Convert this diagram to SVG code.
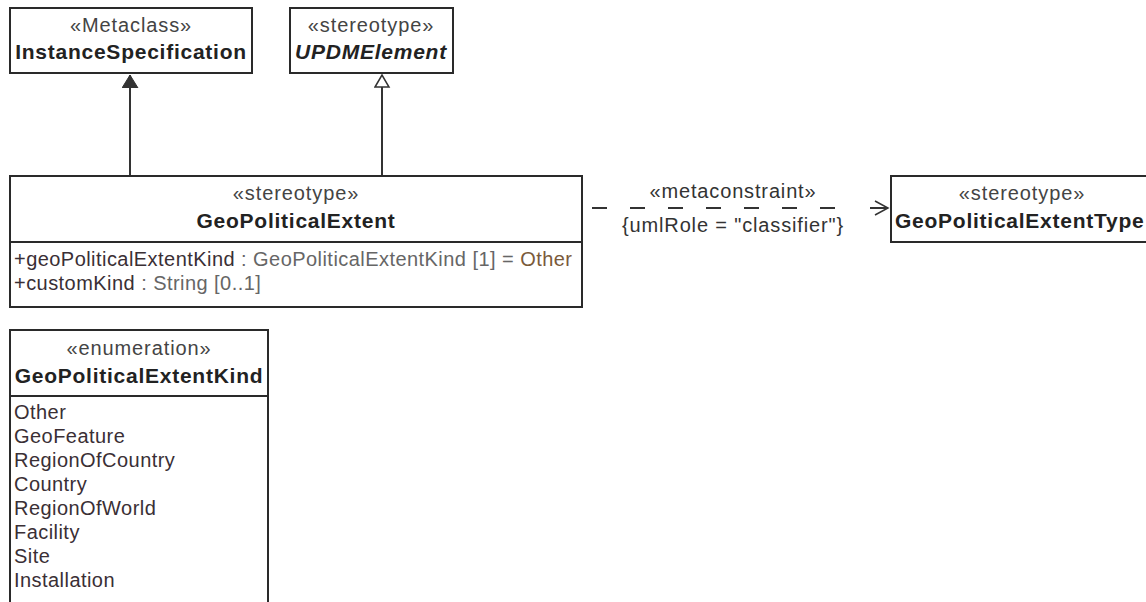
<svg xmlns="http://www.w3.org/2000/svg" width="1146" height="602" viewBox="0 0 1146 602">
<defs>
<style>
.box{fill:#fff;stroke:#2a2a2a;stroke-width:2}
.div{stroke:#2a2a2a;stroke-width:2}
.st{font-family:"Liberation Sans",Arial,sans-serif;font-size:20px;letter-spacing:0.9px;fill:#444;text-anchor:middle}
.nm{font-family:"Liberation Sans",Arial,sans-serif;font-size:21px;letter-spacing:0.75px;font-weight:bold;fill:#222;text-anchor:middle}
.at{font-family:"Liberation Sans",Arial,sans-serif;font-size:20px;letter-spacing:0.45px;fill:#3a2f35}
.ty{fill:#666}
.dv{fill:#7a5a3a}
.ln{stroke:#333;stroke-width:2;fill:none}
.lb{font-family:"Liberation Sans",Arial,sans-serif;font-size:20px;letter-spacing:0.85px;fill:#333;text-anchor:middle}
</style>
<marker id="genFilled" markerWidth="16" markerHeight="18" refX="13" refY="8" orient="auto" markerUnits="userSpaceOnUse">
<path d="M0,0 L13,8 L0,16 Z" fill="#333" stroke="#333" stroke-width="1"/>
</marker>
<marker id="genHollow" markerWidth="16" markerHeight="18" refX="13" refY="8" orient="auto" markerUnits="userSpaceOnUse">
<path d="M1,1 L13,8 L1,15 Z" fill="#fff" stroke="#333" stroke-width="1.5"/>
</marker>
<marker id="open" markerWidth="16" markerHeight="18" refX="14" refY="8" orient="auto" markerUnits="userSpaceOnUse">
<path d="M1,1 L14,8 L1,15" fill="none" stroke="#333" stroke-width="1.5"/>
</marker>
</defs>
<rect width="1146" height="602" fill="#fff"/>

<g id="connectors">
<line class="ln" x1="130" y1="176" x2="130" y2="75" marker-end="url(#genFilled)"/>
<line class="ln" x1="382" y1="176" x2="382" y2="75" marker-end="url(#genHollow)"/>
<line class="ln" x1="592" y1="208" x2="888" y2="208" stroke-dasharray="15 23 15 23 15 23 15 23 15 23 15 23 15 35 18 10" marker-end="url(#open)"/>
<text class="lb" x="733" y="198">«metaconstraint»</text>
<text class="lb" x="733" y="232">{umlRole = "classifier"}</text>
</g>

<g id="InstanceSpecification">
<rect class="box" x="10" y="8" width="242" height="65"/>
<text class="st" x="131" y="32">«Metaclass»</text>
<text class="nm" x="131" y="59">InstanceSpecification</text>
</g>

<g id="UPDMElement">
<rect class="box" x="290" y="8" width="163" height="65"/>
<text class="st" x="371" y="32">«stereotype»</text>
<text class="nm" x="371" y="59" font-style="italic">UPDMElement</text>
</g>

<g id="GeoPoliticalExtent">
<rect class="box" x="10" y="176" width="572" height="131"/>
<text class="st" x="296" y="200">«stereotype»</text>
<text class="nm" x="296" y="228">GeoPoliticalExtent</text>
<line class="div" x1="10" y1="242" x2="582" y2="242"/>
<text class="at" x="14" y="266">+geoPoliticalExtentKind<tspan class="ty"> : GeoPoliticalExtentKind [1] = </tspan><tspan class="dv">Other</tspan></text>
<text class="at" x="14" y="290">+customKind<tspan class="ty"> : String [0..1]</tspan></text>
</g>

<g id="GeoPoliticalExtentType">
<rect class="box" x="891" y="176" width="270" height="66"/>
<text class="st" x="1022" y="200">«stereotype»</text>
<text class="nm" x="895" y="228" style="text-anchor:start">GeoPoliticalExtentType</text>
</g>

<g id="GeoPoliticalExtentKind">
<rect class="box" x="10" y="330" width="258" height="290"/>
<text class="st" x="139" y="355">«enumeration»</text>
<text class="nm" x="139" y="383">GeoPoliticalExtentKind</text>
<line class="div" x1="10" y1="396" x2="268" y2="396"/>
<text class="at" x="14" y="419">Other</text>
<text class="at" x="14" y="443">GeoFeature</text>
<text class="at" x="14" y="467">RegionOfCountry</text>
<text class="at" x="14" y="491">Country</text>
<text class="at" x="14" y="515">RegionOfWorld</text>
<text class="at" x="14" y="539">Facility</text>
<text class="at" x="14" y="563">Site</text>
<text class="at" x="14" y="587">Installation</text>
</g>
</svg>
